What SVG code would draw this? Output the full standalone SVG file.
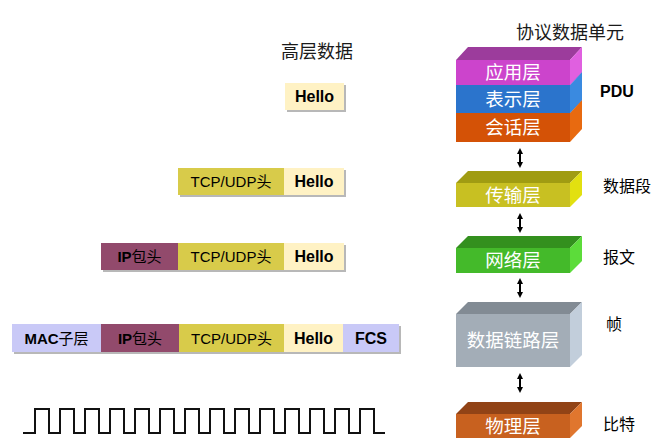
<svg xmlns="http://www.w3.org/2000/svg" width="670" height="445" viewBox="0 0 670 445">
<style>
.cjk{font-family:"Noto Sans CJK SC",sans-serif;fill:#000;font-size:16px}
.t{font-family:"Liberation Sans","Noto Sans CJK SC",sans-serif;font-size:18px;fill:#1a1a1a}
.b{font-family:"Liberation Sans","Noto Sans CJK SC",sans-serif;font-size:15px;fill:#000;text-anchor:middle}
.bb{font-weight:bold}
.h{font-size:16px}
.lay{font-family:"Noto Sans CJK SC",sans-serif;font-size:18.5px;fill:#ffffff;text-anchor:middle}
.sh{fill:#b8b8b8}
.hello{fill:#fff2c4}
.tcp{fill:#d8cb4a}
.ip{fill:#924a6c}
.mac{fill:#c9c9f7}
.arr{stroke:#000;stroke-width:2;fill:none;marker-start:url(#ah);marker-end:url(#ah)}
</style>
<defs>
<marker id="ah" viewBox="0 0 6 6" refX="3" refY="3" markerWidth="3" markerHeight="3" orient="auto-start-reverse">
<path d="M0,0 L6,3 L0,6 z" fill="#000"/>
</marker>
</defs>
<rect width="670" height="445" fill="#ffffff"/>

<text class="t" x="317" y="58" text-anchor="middle">高层数据</text>
<text class="t" x="570" y="39" text-anchor="middle">协议数据单元</text>

<g id="row1">
<rect class="sh" x="287" y="85" width="59" height="27"/>
<rect class="hello" x="285" y="83" width="59" height="27"/>
<text class="b bb h" x="314.5" y="102">Hello</text>
</g>

<g id="row2">
<rect class="sh" x="180" y="170" width="166" height="27"/>
<rect class="tcp" x="178" y="168" width="106" height="27"/>
<rect class="hello" x="284" y="168" width="60" height="27"/>
<text class="b" x="231" y="187">TCP/UDP头</text>
<text class="b bb h" x="314" y="187">Hello</text>
</g>

<g id="row3">
<rect class="sh" x="103" y="245" width="243" height="27"/>
<rect class="ip" x="101" y="243" width="77" height="27"/>
<rect class="tcp" x="178" y="243" width="106" height="27"/>
<rect class="hello" x="284" y="243" width="60" height="27"/>
<text class="b" x="139.5" y="262"><tspan class="bb">IP</tspan>包头</text>
<text class="b" x="231" y="262">TCP/UDP头</text>
<text class="b bb h" x="314" y="262">Hello</text>
</g>

<g id="row4">
<rect class="sh" x="14" y="326" width="387" height="28"/>
<rect class="mac" x="12" y="324" width="89" height="28"/>
<rect class="ip" x="101" y="324" width="78" height="28"/>
<rect class="tcp" x="179" y="324" width="105" height="28"/>
<rect class="hello" x="284" y="324" width="59" height="28"/>
<rect class="mac" x="343" y="324" width="56" height="28"/>
<text class="b" x="56.5" y="344"><tspan class="bb">MAC</tspan>子层</text>
<text class="b" x="140" y="344"><tspan class="bb">IP</tspan>包头</text>
<text class="b" x="231.5" y="344">TCP/UDP头</text>
<text class="b bb h" x="313.5" y="344">Hello</text>
<text class="b bb h" x="371" y="344">FCS</text>
</g>

<g id="signal">
<path d="M23,433 H35 V409 H49 V433 H60 V409 H74 V433 H85 V409 H99 V433 H110 V409 H124 V433 H135 V409 H149 V433 H160 V409 H174 V433 H185 V409 H199 V433 H210 V409 H224 V433 H235 V409 H249 V433 H260 V409 H274 V433 H285 V409 H299 V433 H310 V409 H324 V433 H335 V409 H349 V433 H360 V409 H374 V433 H385" fill="none" stroke="#111" stroke-width="2"/>
</g>

<g id="session">
<rect x="456" y="113" width="114" height="29" fill="#d45206"/>
<polygon points="456,113 468,100 582,100 570,113" fill="#a9420a"/>
<polygon points="570,113 582,100 582,129 570,142" fill="#e86a10"/>
<text class="lay" x="513" y="134">会话层</text>
</g>
<g id="presentation">
<rect x="456" y="85" width="114" height="28" fill="#2b74cc"/>
<polygon points="456,85 468,72 582,72 570,85" fill="#1f5ea8"/>
<polygon points="570,85 582,72 582,100 570,113" fill="#3a8ae0"/>
<text class="lay" x="513" y="106">表示层</text>
</g>
<g id="application">
<rect x="456" y="60" width="114" height="25" fill="#cc44cc"/>
<polygon points="456,60 468,47 582,47 570,60" fill="#9c3c9c"/>
<polygon points="570,60 582,47 582,72 570,85" fill="#e060e0"/>
<text class="lay" x="513" y="79">应用层</text>
</g>

<g id="transport">
<rect x="456" y="183" width="114" height="24" fill="#c8c022"/>
<polygon points="456,183 468,171 582,171 570,183" fill="#a09c12"/>
<polygon points="570,183 582,171 582,195 570,207" fill="#e2e010"/>
<text class="lay" x="513" y="202">传输层</text>
</g>

<g id="network">
<rect x="456" y="248" width="114" height="25" fill="#44ba2a"/>
<polygon points="456,248 468,236 582,236 570,248" fill="#33901e"/>
<polygon points="570,248 582,236 582,261 570,273" fill="#5cdc3a"/>
<text class="lay" x="513" y="267">网络层</text>
</g>

<g id="datalink">
<rect x="456" y="314" width="114" height="53" fill="#a3adb7"/>
<polygon points="456,314 468,302 582,302 570,314" fill="#828b94"/>
<polygon points="570,314 582,302 582,355 570,367" fill="#c2cedb"/>
<text class="lay" x="513" y="347">数据链路层</text>
</g>

<g id="physical">
<rect x="456" y="414" width="114" height="24" fill="#c8611f"/>
<polygon points="456,414 468,402 582,402 570,414" fill="#914316"/>
<polygon points="570,414 582,402 582,426 570,438" fill="#e0762e"/>
<text class="lay" x="513" y="433">物理层</text>
</g>

<g id="connectors">
<path class="arr" d="M520,151 V165"/>
<path class="arr" d="M520,216 V230"/>
<path class="arr" d="M520,281 V295"/>
<path class="arr" d="M520,376 V390"/>
</g>

<g id="labels">
<text x="600" y="97" font-family="Liberation Sans, sans-serif" font-size="16" font-weight="bold" fill="#000">PDU</text>
<text class="cjk" x="603" y="192">数据段</text>
<text class="cjk" x="603" y="263">报文</text>
<text class="cjk" x="606" y="330">帧</text>
<text class="cjk" x="603" y="430">比特</text>
</g>
</svg>
